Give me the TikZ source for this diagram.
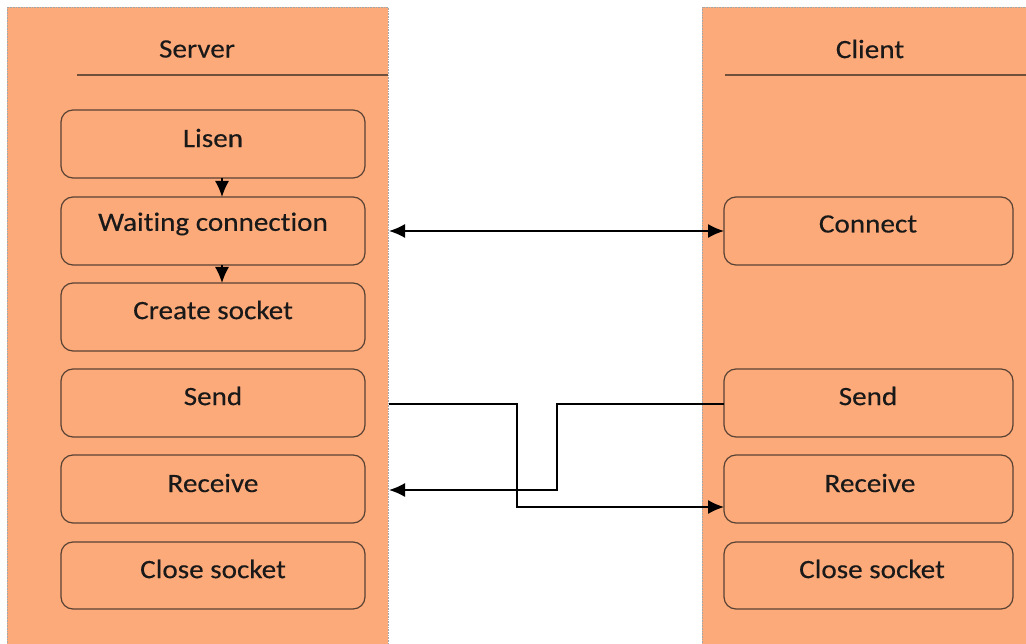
\documentclass[tikz,border=0pt]{standalone}
\usepackage{fontspec}
\setmainfont[Ligatures=NoCommon, FakeStretch=1.1, FakeBold=0.3]{Carlito}
\usetikzlibrary{arrows.meta}
\definecolor{panelfill}{RGB}{252,170,122}
\definecolor{boxline}{RGB}{88,66,52}
\definecolor{rulecol}{RGB}{110,80,60}
\tikzset{
  panel/.style={fill=panelfill, draw=gray!70, densely dotted, line width=0.6pt},
  stepbox/.style={draw=boxline, fill=panelfill, rounded corners=12pt, line width=1.2pt},
  lbl/.style={font=\fontsize{26.5}{30}\selectfont, text=black!90, inner sep=0pt},
  bigtip/.tip={Latex[length=16pt,width=14pt]},
  flow/.style={draw=black, line width=1.5pt, -bigtip},
}
\begin{document}
\begin{tikzpicture}[x=1pt,y=-1pt]
\useasboundingbox (0,0) rectangle (1026,644);
% swimlanes
\path[panel] (7,7) rectangle (388,650);
\path[panel] (702,7) rectangle (1030,650);
\draw[rulecol, line width=1.8pt] (77,75) -- (388,75);
\draw[rulecol, line width=1.8pt] (725,75) -- (1026,75);
\node[lbl] (srvtitle) at (197,49) {Server};
\node[lbl] (clititle) at (870,49) {Client};
% server steps
\path[stepbox] (61,110) rectangle (365,178);
\path[stepbox] (61,197) rectangle (365,265);
\path[stepbox] (61,283) rectangle (365,351);
\path[stepbox] (61,369) rectangle (365,437);
\path[stepbox] (61,455) rectangle (365,523);
\path[stepbox] (61,542) rectangle (365,609);
\node[lbl] (lisen) at (213,138) {Lisen};
\node[lbl] (wait) at (213,224) {Waiting connection};
\node[lbl] (create) at (213,310) {Create socket};
\node[lbl] (ssend) at (213,396) {Send};
\node[lbl] (srecv) at (213,483) {Receive};
\node[lbl] (sclose) at (213,569) {Close socket};
% client steps
\path[stepbox] (724,197) rectangle (1013,265);
\path[stepbox] (724,369) rectangle (1013,437);
\path[stepbox] (724,455) rectangle (1013,523);
\path[stepbox] (724,542) rectangle (1013,609);
\node[lbl] (connect) at (868,224) {Connect};
\node[lbl] (csend) at (868,396) {Send};
\node[lbl] (crecv) at (870,483) {Receive};
\node[lbl] (cclose) at (872,569) {Close socket};
% anchor points on box and lane edges
\coordinate (lisenB) at (222,178);
\coordinate (waitT) at (222,197);
\coordinate (waitB) at (222,265);
\coordinate (createT) at (222,283);
\coordinate (srvEdgeC) at (389,231);
\coordinate (connL) at (724,231);
\coordinate (srvSendOut) at (389,404);
\coordinate (srvRecvIn) at (389,490);
\coordinate (cliSendOut) at (724,404);
\coordinate (cliRecvIn) at (724,507);
% server internal flow
\draw[flow] (lisenB) -- (waitT);
\draw[flow] (waitB) -- (createT);
% connection handshake
\draw[flow, bigtip-bigtip] (srvEdgeC) -- (connL);
% data exchange
\draw[flow] (srvSendOut) -- (517,404) -- (517,507) -- (cliRecvIn);
\draw[flow] (cliSendOut) -- (557,404) -- (557,490) -- (srvRecvIn);
\end{tikzpicture}
\end{document}
